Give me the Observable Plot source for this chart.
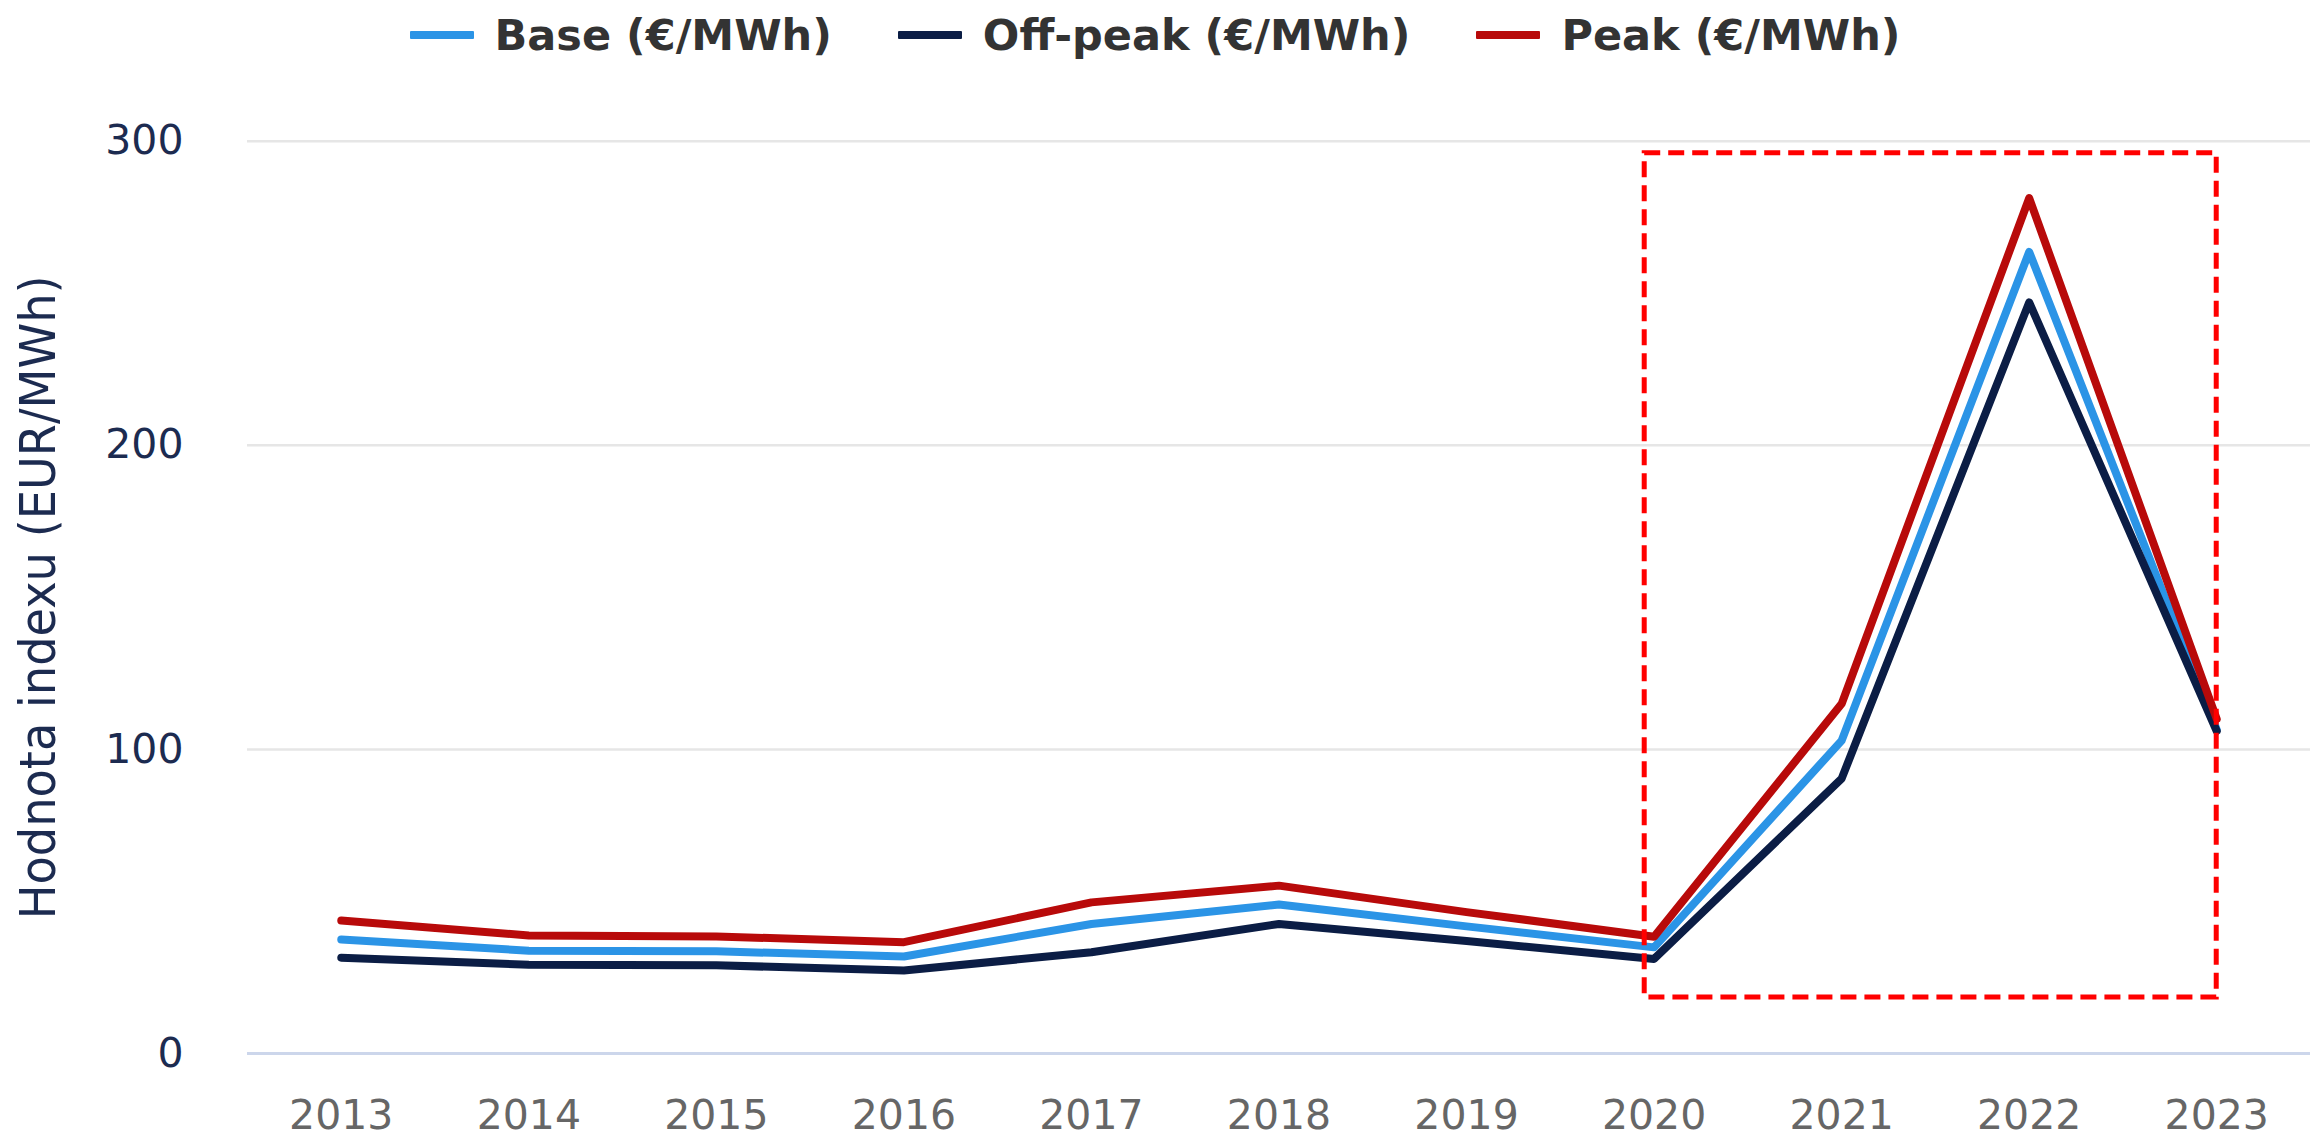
<!DOCTYPE html>
<html>
<head>
<meta charset="utf-8">
<script src="https://cdn.jsdelivr.net/npm/d3@7"></script>
<script src="https://cdn.jsdelivr.net/npm/@observablehq/plot@0.6"></script>
<style>
  html, body { margin: 0; padding: 0; background: #ffffff; overflow: hidden; }
  #legend { height: 70px; display: flex; justify-content: center; align-items: center; gap: 66px;
            font-family: "DejaVu Sans", sans-serif; font-weight: bold; font-size: 43px; color: #333333; }
  .item { display: flex; align-items: center; white-space: nowrap; }
  .swatch { width: 64px; height: 8px; margin-right: 21px; border-radius: 1px; }
  #chart svg { display: block; }
</style>
</head>
<body>
<div id="legend"></div>
<div id="chart"></div>
<script>
// ---- data ----
const years = [2013, 2014, 2015, 2016, 2017, 2018, 2019, 2020, 2021, 2022, 2023];
const baseValues    = [37.5, 33.8, 33.6, 31.9, 42.6, 49.0, 41.8, 34.9, 102.9, 263.6, 106.5];
const offpeakValues = [31.5, 29.2, 29.0, 27.3, 33.3, 42.6, 37.0, 31.1, 90.4, 247.0, 106.0];
const peakValues    = [43.7, 38.8, 38.5, 36.6, 49.7, 55.2, 46.5, 38.4, 115.0, 281.3, 110.0];
const seriesNames = ["Base (€/MWh)", "Off-peak (€/MWh)", "Peak (€/MWh)"];
const seriesColors = ["#2b94e6", "#0b1d45", "#b80a0a"];
const yTicks = [0, 100, 200, 300];
const yTitle = "Hodnota indexu (EUR/MWh)";
// highlighted region (dashed box)
const highlightYears = [2019.95, 2023];
const highlightValues = [18.4, 296];

// ---- build table ----
const seriesValues = [baseValues, offpeakValues, peakValues];
const rows = seriesNames.flatMap((name, i) =>
  years.map((year, j) => ({series: name, year, value: seriesValues[i][j]})));
const box = [{x1: highlightYears[0], x2: highlightYears[1], y1: highlightValues[0], y2: highlightValues[1]}];

// ---- legend ----
const legend = document.getElementById("legend");
seriesNames.forEach((name, i) => {
  const item = document.createElement("div");
  item.className = "item";
  const sw = document.createElement("span");
  sw.className = "swatch";
  sw.style.background = seriesColors[i];
  const label = document.createElement("span");
  label.textContent = name;
  item.appendChild(sw);
  item.appendChild(label);
  legend.appendChild(item);
});

// ---- chart ----
const chart = Plot.plot({
  width: 2310,
  height: 1064,
  marginLeft: 247,
  marginRight: 0,
  marginTop: 70.7,
  marginBottom: 81,
  style: {fontFamily: "DejaVu Sans", background: "#ffffff", overflow: "visible"},
  x: {type: "linear", domain: [2012.5, 2023.5]},
  y: {domain: [0, 300]},
  color: {domain: seriesNames, range: seriesColors},
  marks: [
    Plot.gridY(yTicks.filter(d => d > 0), {stroke: "#e6e6e6", strokeOpacity: 1, strokeWidth: 2.5}),
    Plot.ruleY([0], {stroke: "#ccd6eb", strokeWidth: 3}),
    Plot.axisY({ticks: yTicks, tickSize: 0, tickPadding: 64, fontSize: 41, color: "#1c2b50", label: null}),
    Plot.axisX({ticks: years, tickSize: 0, tickPadding: 46, fontSize: 41, color: "#666666", label: null,
                tickFormat: d => String(d)}),
    Plot.line(rows, {x: "year", y: "value", z: "series", stroke: "series", strokeWidth: 8,
                     strokeLinejoin: "round", strokeLinecap: "round"}),
    Plot.rect(box, {x1: "x1", x2: "x2", y1: "y1", y2: "y2", fill: "none", stroke: "#ff0000",
                    strokeWidth: 5, strokeDasharray: "16,8"}),
    Plot.text([yTitle], {frameAnchor: "left", textAnchor: "middle", lineAnchor: "middle", dx: -209, rotate: -90,
                         fontSize: 50, fill: "#1c2b50", className: "ytitle"})
  ]
});
document.getElementById("chart").appendChild(chart);
// condense the axis title to the reference's length
d3.select(chart).selectAll(".ytitle text")
  .attr("textLength", 644)
  .attr("lengthAdjust", "spacingAndGlyphs");
</script>
</body>
</html>
